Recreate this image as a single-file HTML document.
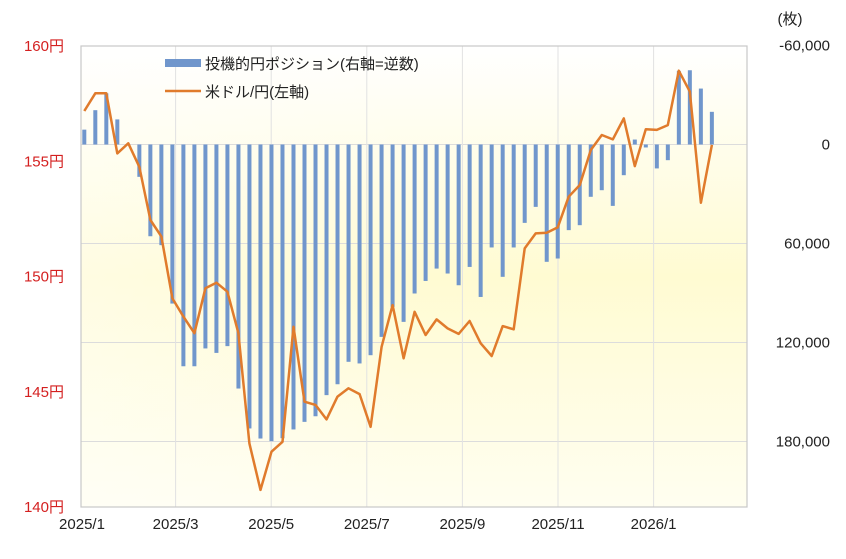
<!DOCTYPE html>
<html><head><meta charset="utf-8"><style>
html,body{margin:0;padding:0;background:#fff;}
svg text{font-family:"Liberation Sans","Noto Sans CJK JP",sans-serif;}
</style></head><body>
<svg id="chart" width="846" height="554" viewBox="0 0 846 554" xmlns="http://www.w3.org/2000/svg">
<defs>
<linearGradient id="bg" x1="0" y1="0" x2="0" y2="1">
<stop offset="0" stop-color="#ffffff"/>
<stop offset="0.5" stop-color="#fffbd2"/>
<stop offset="1" stop-color="#fffef0"/>
</linearGradient>
<linearGradient id="bgh" x1="0" y1="0" x2="1" y2="0">
<stop offset="0" stop-color="#ffffff" stop-opacity="0.35"/>
<stop offset="0.5" stop-color="#ffffff" stop-opacity="0"/>
<stop offset="1" stop-color="#ffffff" stop-opacity="0"/>
</linearGradient>
</defs>
<rect x="81" y="46" width="666" height="461" fill="url(#bg)"/>
<rect x="81" y="46" width="666" height="461" fill="url(#bgh)"/>
<g id="grid"></g>
<g id="bars"></g>
<g id="line"></g>
<rect x="81" y="46" width="666" height="461" fill="none" stroke="#c8c8c8" stroke-width="1.2"/>
<g id="axes"></g>
<g>
<rect x="165" y="59" width="36" height="8" fill="#7096cc"/>
<text x="205" y="69" font-size="15" fill="#222">投機的円ポジション(右軸=逆数)</text>
<line x1="165" y1="91" x2="201" y2="91" stroke="#e07b2c" stroke-width="2.5"/>
<text x="205" y="97" font-size="15" fill="#222">米ドル/円(左軸)</text>
</g>
<text x="790" y="24" font-size="15" fill="#222" text-anchor="middle">(枚)</text>
</svg>
<script>
const positions=[-9000,-20800,-31000,-15200,0,19600,55600,61000,96400,134400,134400,123600,126300,122200,147900,172100,178200,179800,178000,172700,168100,164700,151900,145300,131700,132700,127700,116600,98400,107500,90300,82700,75200,78200,85300,74200,92400,62400,80200,62400,47500,37800,71100,69100,51900,48900,31700,27700,37200,18600,-3000,1800,14500,9500,-44600,-45000,-33900,-19800];
const usdjpy=[157.18,157.95,157.95,155.34,155.78,154.76,152.45,151.73,149.05,148.26,147.54,149.49,149.73,149.34,147.54,142.76,140.74,142.40,142.83,147.82,144.57,144.43,143.80,144.79,145.15,144.90,143.48,146.95,148.76,146.45,148.47,147.46,148.14,147.75,147.51,148.07,147.10,146.55,147.85,147.71,151.22,151.87,151.90,152.13,153.46,153.97,155.49,156.14,155.95,156.86,154.79,156.39,156.36,156.57,158.93,158.02,153.20,155.71];
const leftTicks=[140,145,150,155,160];
const rightTicks=[-60000,0,60000,120000,180000];
const monthLabels=["2025/1","2025/3","2025/5","2025/7","2025/9","2025/11","2026/1"];
const monthIndex=[0,2,4,6,8,10,12];

const NS="http://www.w3.org/2000/svg";
const L=81,R=747,T=46,B=507;
function yL(v){return T+(160-v)*(B-T)/20;}
function yR(v){return 144.5+v*99/60000;}
function xW(i){return 84.3+i*11.01;}
function xM(m){return 80+m*47.8;}
function mk(tag,attrs,parent){const e=document.createElementNS(NS,tag);for(const k in attrs)e.setAttribute(k,attrs[k]);parent.appendChild(e);return e;}
const grid=document.getElementById('grid'),bars=document.getElementById('bars'),line=document.getElementById('line'),axes=document.getElementById('axes');
rightTicks.forEach((t)=>{const y=yR(t);
 if(y>T+2&&y<B-2){const g=mk('line',{x1:L,x2:R,y1:y,y2:y,stroke:'#dcdcdc','stroke-width':1},grid);
 
 }
 const tx=mk('text',{x:830,y:y+5,'font-size':15,fill:'#222','text-anchor':'end'},axes);
 tx.textContent=t.toLocaleString('en-US');
 
 
});
leftTicks.forEach((t)=>{const y=yL(t);
 const tx=mk('text',{x:64,y:y+5,'font-size':15,fill:'#d42020','text-anchor':'end'},axes);
 tx.textContent=t+'円';
 
 
});
monthLabels.forEach((lab,i)=>{const x=xM(monthIndex[i]);
 if(i>0){const g=mk('line',{x1:x,x2:x,y1:T,y2:B,stroke:'#e2e2e2','stroke-width':1},grid);
 
 }
 const tx=mk('text',{x:x+(i==0?2:0),y:529,'font-size':15,fill:'#222','text-anchor':'middle'},axes);
 tx.textContent=lab;
 
 
});
positions.forEach((v,i)=>{const y0=yR(0),y1=yR(v);
 const r=mk('rect',{x:xW(i)-2,y:Math.min(y0,y1),width:4,height:Math.max(1,Math.abs(y1-y0)),fill:'#7096cc'},bars);
 
 
});
const pts=usdjpy.map((v,i)=>xW(i).toFixed(1)+','+yL(v).toFixed(1)).join(' ');
const pl=mk('polyline',{points:pts,fill:'none',stroke:'#e07b2c','stroke-width':2.5,'stroke-linejoin':'round'},line);


</script>
</body></html>
